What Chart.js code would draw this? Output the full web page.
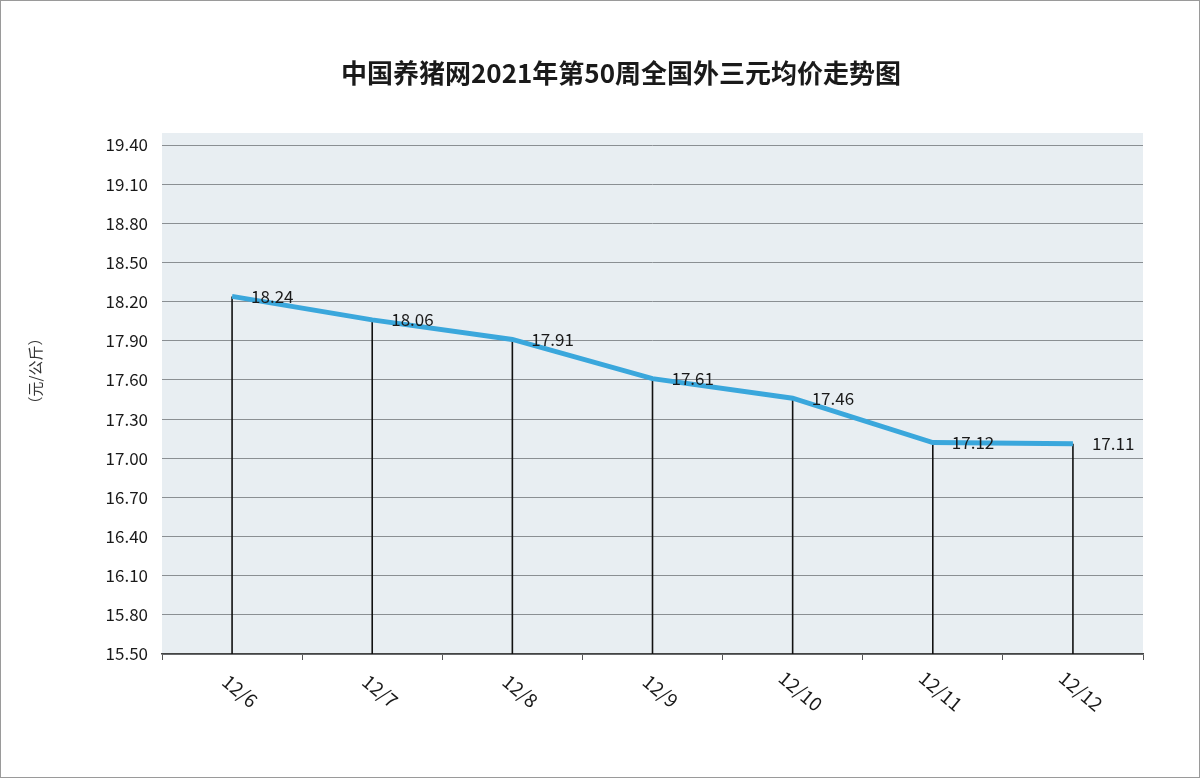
<!DOCTYPE html>
<html>
<head>
<meta charset="utf-8">
<script src="https://cdn.jsdelivr.net/npm/chart.js@4.4.3/dist/chart.umd.min.js"></script>
<style>
  html, body { margin: 0; padding: 0; background: #fff; }
  #wrap { width: 1200px; height: 778px; position: relative; box-sizing: border-box; border: 1px solid #9a9a9a; }
</style>
</head>
<body>
<div id="wrap"><canvas id="c" width="1198" height="776"></canvas></div>
<script>
// Data
var dates  = ['12/6', '12/7', '12/8', '12/9', '12/10', '12/11', '12/12'];
var prices = [18.24, 18.06, 17.91, 17.61, 17.46, 17.12, 17.11];
var yTicks = [15.5, 15.8, 16.1, 16.4, 16.7, 17.0, 17.3, 17.6, 17.9, 18.2, 18.5, 18.8, 19.1, 19.4];

var FONT = '"Noto Sans CJK SC", "Noto Sans", sans-serif';

// Draws background, drop lines, labels, title.
var decor = {
  id: 'decor',
  beforeDraw: function (chart) {
    var ctx = chart.ctx, a = chart.chartArea;
    ctx.save();
    ctx.fillStyle = '#e8eef2';
    ctx.fillRect(a.left, a.top - 12, a.right - a.left, a.bottom - a.top + 12);
    ctx.restore();
  },
  beforeDatasetsDraw: function (chart) {
    var ctx = chart.ctx, xs = chart.scales.x, ys = chart.scales.y;
    ctx.save();
    ctx.strokeStyle = '#111';
    ctx.lineWidth = 1.6;
    prices.forEach(function (v, i) {
      var x = xs.getPixelForValue(i);
      ctx.beginPath();
      ctx.moveTo(x, ys.getPixelForValue(v));
      ctx.lineTo(x, chart.chartArea.bottom);
      ctx.stroke();
    });
    ctx.restore();
  },
  afterDraw: function (chart) {
    var ctx = chart.ctx, xs = chart.scales.x, ys = chart.scales.y;
    ctx.save();
    // value labels
    ctx.fillStyle = '#1a1a1a';
    ctx.font = '17px ' + FONT;
    ctx.textBaseline = 'middle';
    ctx.textAlign = 'left';
    prices.forEach(function (v, i) {
      ctx.fillText(v.toFixed(2), xs.getPixelForValue(i) + 19, ys.getPixelForValue(v));
    });
    // rotated x labels
    ctx.font = '19px ' + FONT;
    ctx.textAlign = 'center';
    dates.forEach(function (d, i) {
      ctx.save();
      ctx.translate(xs.getPixelForValue(i) + 8, 690);
      ctx.rotate(40 * Math.PI / 180);
      ctx.fillText(d, 0, 0);
      ctx.restore();
    });
    // y title
    ctx.save();
    ctx.translate(34, 370);
    ctx.rotate(-Math.PI / 2);
    ctx.font = '15px ' + FONT;
    ctx.fillStyle = '#333';
    ctx.fillText('（元/公斤）', 0, 0);
    ctx.restore();
    // main title
    ctx.font = 'bold 26px ' + FONT;
    ctx.fillStyle = '#1a1a1a';
    ctx.fillText('中国养猪网2021年第50周全国外三元均价走势图', 620, 72);
    ctx.restore();
  }
};

new Chart(document.getElementById('c'), {
  type: 'line',
  data: {
    labels: dates,
    datasets: [{
      data: prices,
      borderColor: '#3aa7dc',
      borderWidth: 5,
      pointRadius: 0,
      tension: 0,
      fill: false
    }]
  },
  options: {
    responsive: false,
    animation: false,
    devicePixelRatio: 1,
    layout: { padding: { top: 144, right: 56, bottom: 0, left: 0 } },
    plugins: { legend: { display: false }, tooltip: { enabled: false } },
    scales: {
      x: {
        offset: true,
        afterFit: function (s) { s.height = 123; },
        ticks: { display: false },
        grid: { display: true, drawOnChartArea: false, offset: true, tickLength: 6, color: '#555' },
        border: { color: '#444', width: 1.5 }
      },
      y: {
        min: 15.5,
        max: 19.4,
        afterFit: function (s) { s.width = 161; },
        afterBuildTicks: function (s) { s.ticks = yTicks.map(function (v) { return { value: v }; }); },
        ticks: {
          color: '#1a1a1a',
          font: { size: 17, family: FONT },
          padding: 14,
          callback: function (v) { return Number(v).toFixed(2); }
        },
        grid: { color: '#8a8f93', lineWidth: 1, drawTicks: false },
        border: { display: false }
      }
    }
  },
  plugins: [decor]
});
</script>
</body>
</html>
